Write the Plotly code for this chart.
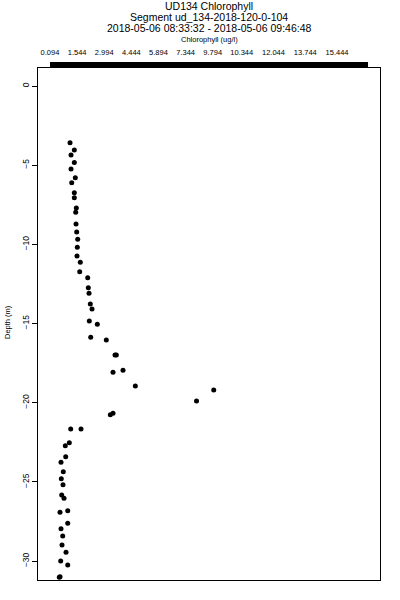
import plotly.graph_objects as go

# Data
chlorophyll = [1.164, 1.394, 1.217, 1.394, 1.217, 1.447, 1.255, 1.394, 1.394, 1.501,
               1.468, 1.484, 1.522, 1.575, 1.554, 1.538, 1.714, 1.682, 2.110, 2.142,
               2.180, 2.249, 2.340, 2.196, 2.624, 2.271, 3.105, 3.570, 3.640, 3.463,
               3.998, 4.656, 8.849, 7.929, 3.319, 3.463, 1.201, 1.752, 1.126, 0.912,
               0.934, 0.682, 0.805, 0.698, 0.789, 0.720, 0.843, 1.041, 0.629, 1.041,
               0.682, 0.773, 0.736, 0.950, 0.666, 1.041, 0.591, 0.629]
depth = [-3.58, -4.04, -4.36, -4.82, -5.24, -5.79, -6.10, -6.74, -7.05, -7.70,
         -7.97, -8.71, -9.22, -9.68, -10.18, -10.73, -11.13, -11.72, -12.10, -12.73,
         -13.09, -13.76, -14.08, -14.84, -15.04, -15.86, -16.04, -16.98, -16.98, -18.07,
         -17.95, -18.94, -19.19, -19.89, -20.75, -20.66, -21.65, -21.65, -22.52, -22.71,
         -23.40, -23.76, -24.35, -24.79, -25.17, -25.82, -26.03, -26.81, -26.91, -27.61,
         -27.95, -28.41, -28.98, -29.44, -29.99, -30.24, -31.02, -30.98]

x_tick_vals = [0.094, 1.544, 2.994, 4.444, 5.894, 7.344, 8.794, 10.344, 12.044, 13.744, 15.444]
x_tick_text = ["0.094", "1.544", "2.994", "4.444", "5.894", "7.344", "9.794",
               "10.344", "12.044", "13.744", "15.444"]
y_tick_vals = [0, -5, -10, -15, -20, -25, -30]

title_lines = ["UD134 Chlorophyll",
               "Segment ud_134-2018-120-0-104",
               "2018-05-06 08:33:32 - 2018-05-06 09:46:48"]
x_title = "Chlorophyll (ug/l)"
y_title = "Depth (m)"

FONT = "Liberation Sans, Arial, Helvetica, sans-serif"

fig = go.Figure()
fig.add_trace(go.Scatter(
    x=chlorophyll, y=depth, mode="markers",
    marker=dict(color="black", size=5, symbol="circle"),
    showlegend=False, hoverinfo="x+y"))

fig.update_layout(
    width=400, height=600,
    margin=dict(l=38, r=20, t=68, b=20),
    paper_bgcolor="white", plot_bgcolor="white",
    font=dict(family=FONT, color="black"),
    xaxis=dict(
        range=[-0.548, 17.74], side="top",
        tickmode="array", tickvals=x_tick_vals, ticktext=x_tick_text,
        ticks="outside", ticklen=9, tickcolor="rgba(0,0,0,0)",
        tickfont=dict(size=7.5, family=FONT, color="black"),
        showgrid=False, zeroline=False,
        showline=True, linecolor="black", linewidth=1, mirror=True,
    ),
    yaxis=dict(
        range=[-31.19, 1.14],
        tickmode="array", tickvals=y_tick_vals,
        ticks="outside", ticklen=5, tickcolor="black", tickwidth=1,
        tickangle=-90,
        tickfont=dict(size=8.5, family=FONT, color="black"),
        showgrid=False, zeroline=False,
        showline=True, linecolor="black", linewidth=1, mirror=True,
    ),
)

# thick top axis bar
fig.add_shape(type="rect", xref="x", yref="paper",
              x0=x_tick_vals[0], x1=17.1,
              ysizemode="pixel", yanchor=1, y0=1, y1=6,
              fillcolor="black", line=dict(width=0))

for text, shift in zip(title_lines, [62, 51, 40]):
    fig.add_annotation(text=text, xref="paper", yref="paper", x=0.5, y=1,
                       xanchor="center", yanchor="middle", yshift=shift,
                       showarrow=False, font=dict(size=10.5, family=FONT, color="black"))

fig.add_annotation(text=x_title, xref="paper", yref="paper", x=0.5, y=1,
                   xanchor="center", yanchor="middle", yshift=29,
                   showarrow=False, font=dict(size=7.5, family=FONT, color="black"))

fig.add_annotation(text=y_title, xref="paper", yref="paper", x=0, y=0.5,
                   xanchor="center", yanchor="middle", xshift=-31, yshift=2,
                   textangle=-90, showarrow=False,
                   font=dict(size=7.5, family=FONT, color="black"))

fig.write_html("out.html",
               config={"displayModeBar": False},
               post_script="document.body.style.margin='0';document.body.style.overflow='hidden';")
